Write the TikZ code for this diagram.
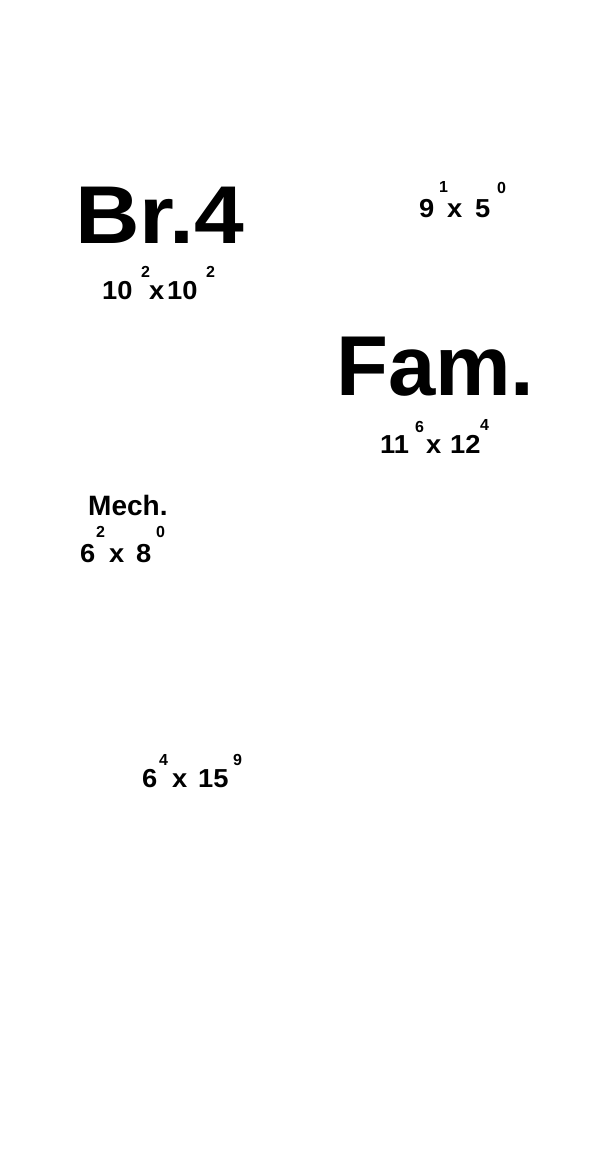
\documentclass[tikz,border=0pt]{standalone}
\usepackage{fontspec}
\setmainfont{Liberation Sans}
\newfontfamily\wideface{Liberation Sans}[FakeStretch=1.09]
\newfontfamily\numface{Liberation Sans}[FakeStretch=1.05]
\usepackage{tikz}
\usetikzlibrary{positioning}
\tikzset{
  lbl/.style={inner sep=0pt, anchor=base west, font=\bfseries},
  huge/.style={lbl, font=\fontsize{82}{82}\wideface\bfseries},
  big/.style={lbl, font=\fontsize{85}{85}\selectfont\bfseries},
  word/.style={lbl, font=\fontsize{28}{28}\selectfont\bfseries},
  num/.style={lbl, font=\fontsize{26}{26}\numface\bfseries},
  pow/.style={lbl, font=\fontsize{16}{16}\selectfont\bfseries}
}

\begin{document}
\begin{tikzpicture}[x=1pt, y=-1pt]
        \useasboundingbox (0,0) rectangle (614,1165);

        % Br.4
        \node[huge] (br) at (75, 243) {Br.4};
        \node[num] (brA) at (102, 299) {10};
        \node[pow] (brAp) at (141, 277) {2};
        \node[num] (brX) at (149, 299) {x};
        \node[num] (brB) at (167, 299) {10};
        \node[pow] (brBp) at (206, 277) {2};

        % top right
        \node[num] (trA) at (419, 217) {9};
        \node[pow] (trAp) at (439, 192) {1};
        \node[num] (trX) at (447, 217) {x};
        \node[num] (trB) at (475, 217) {5};
        \node[pow] (trBp) at (497, 193) {0};

        % Fam.
        \node[big] (fam) at (336, 395) {Fam.};
        \node[num] (famA) at (380, 453) {11};
        \node[pow] (famAp) at (415, 432) {6};
        \node[num] (famX) at (426, 453) {x};
        \node[num] (famB) at (450, 453) {12};
        \node[pow] (famBp) at (480, 430) {4};

        % Mech.
        \node[word] (mech) at (88, 515) {Mech.};
        \node[num] (meA) at (80, 562) {6};
        \node[pow] (meAp) at (96, 537) {2};
        \node[num] (meX) at (109, 562) {x};
        \node[num] (meB) at (136, 562) {8};
        \node[pow] (meBp) at (156, 537) {0};

        % bottom
        \node[num] (boA) at (142, 787) {6};
        \node[pow] (boAp) at (159, 765) {4};
        \node[num] (boX) at (172, 787) {x};
        \node[num] (boB) at (198, 787) {15};
        \node[pow] (boBp) at (233, 765) {9};
\end{tikzpicture}
\end{document}
